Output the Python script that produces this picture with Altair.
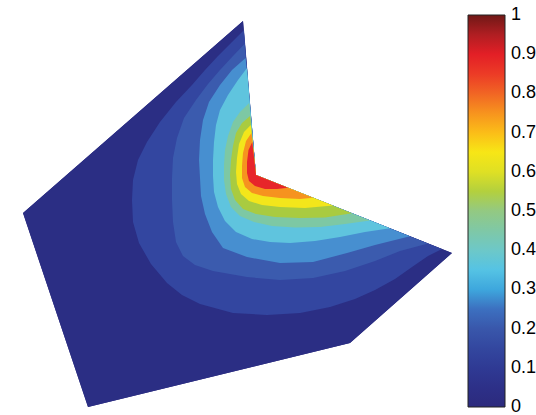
import altair as alt

# ---- data (pixel-like plane coordinates, y downward) ----
DOMAIN = [[243, 21], [256, 175], [452, 253], [350, 343], [88, 407], [23, 213]]
CORNER = [256, 175]

LEVELS = [0.1, 0.2, 0.3, 0.4, 0.5, 0.6, 0.7, 0.8, 0.9]

C1 = [[244, 30], [232, 42], [218, 56], [205, 70], [192, 85], [176, 102], [160, 122],
      [147, 142], [138, 160], [133, 180], [132, 200], [133, 222], [139, 243], [151, 264],
      [167, 283], [182, 295], [200, 304], [233, 313], [267, 315], [300, 313], [330, 307],
      [355, 299], [375, 290], [395, 279], [412, 267], [428, 256], [442, 249]]
C2 = [[244.5, 44], [233, 56], [220, 70], [208, 84], [196, 100], [184, 118], [177, 138],
      [173, 158], [172, 178], [172, 200], [173, 222], [176, 242], [183, 256], [195, 265],
      [213, 271], [247, 277], [280, 280], [313, 278], [345, 271], [375, 261], [400, 251],
      [428, 243.5]]
C3 = [[245.6, 58], [232, 70], [220, 85], [209, 102], [203, 120], [200, 140], [199, 160],
      [200, 178], [201, 196], [205, 214], [212, 232], [223, 248], [247, 257], [280, 263],
      [313, 262], [347, 253], [375, 245], [410, 236.3]]
C4 = [[247, 68], [238, 80], [228, 95], [220, 110], [216, 125], [214, 142], [213, 160],
      [213, 176], [214, 192], [218, 207], [225, 221], [236, 232], [252, 239], [270, 242],
      [290, 243], [315, 241], [340, 237], [365, 232], [390, 228.3]]
C5 = [[249.2, 103], [240, 112], [233, 122], [228, 136], [225, 150], [224, 165], [224, 180],
      [226, 194], [231, 207], [240, 216], [254, 222], [272, 226], [295, 227.5], [320, 227],
      [345, 224], [370, 220.4]]
C6 = [[250.1, 116], [242, 123], [236, 133], [233, 146], [231, 160], [230, 175], [231, 189],
      [235, 200], [243, 209], [256, 214], [275, 217], [300, 218], [325, 217.5], [352, 213.2]]
C7 = [[250.8, 125], [244, 132], [239, 144], [237, 158], [236, 172], [237, 184], [241, 194],
      [249, 201], [262, 205], [280, 207], [305, 208], [333, 205.6]]
C8 = [[251.5, 133], [246, 141], [243, 153], [242, 166], [242, 178], [245, 187], [252, 193],
      [263, 196], [280, 198], [300, 199], [313, 197.7]]
C9 = [[252.3, 142], [248.5, 150], [247, 162], [247, 173], [249, 181], [255, 186], [265, 189],
      [277, 189], [288, 187.7]]
CONTOURS = [C1, C2, C3, C4, C5, C6, C7, C8, C9]

BAND_COLORS = ["#2b2e84", "#3346a0", "#3b5bae", "#478fd0", "#5fc4de",
               "#7dc8a4", "#a9cb40", "#f3e61b", "#f6931f", "#e7252a"]

CBAR_COLORS = ["#2c2a7d", "#2d3088", "#2f3a94", "#33479f", "#3957ab", "#3c70c0",
               "#3ea7dd", "#55c3e4", "#6dc8c8", "#7fc8a6", "#93c982", "#b3d03e",
               "#dfe024", "#f7e616", "#fbbd18", "#f7931e", "#f16524", "#ec3b26",
               "#e31f26", "#b01e22", "#701816"]
CBAR_TICKS = [0, 0.1, 0.2, 0.3, 0.4, 0.5, 0.6, 0.7, 0.8, 0.9, 1]
INNER_TICKS = [0.1, 0.2, 0.3, 0.4, 0.5, 0.6, 0.7, 0.8, 0.9]


def ring(points):
    pts = [list(p) for p in points]
    if pts[0] != pts[-1]:
        pts.append(pts[0])
    return pts


band_names = ["b0"] + ["b%d" % (i + 1) for i in range(len(LEVELS))]
features = [{"type": "Feature",
             "geometry": {"type": "Polygon", "coordinates": [ring(DOMAIN)]},
             "properties": {"band": "b0", "level": 0.0}}]
for i, (lev, c) in enumerate(zip(LEVELS, CONTOURS)):
    features.append({"type": "Feature",
                     "geometry": {"type": "Polygon", "coordinates": [ring(c + [CORNER])]},
                     "properties": {"band": band_names[i + 1], "level": lev}})

legend_feature = [{"type": "Feature",
                   "geometry": {"type": "Polygon", "coordinates": [ring(DOMAIN)]},
                   "properties": {"level": 0.0}}]

base_legend = alt.Chart(alt.Data(values=legend_feature)).mark_geoshape(
    strokeWidth=0
).encode(
    fill=alt.Color(
        "properties.level:Q",
        scale=alt.Scale(domain=[-0.0001, 1.0001], range=CBAR_COLORS),
        legend=alt.Legend(
            orient="none", legendX=445, legendY=-6, direction="vertical",
            gradientLength=392, gradientThickness=37, title=None,
            values=CBAR_TICKS, format="~g", labelFontSize=18,
            labelFont="Liberation Sans", labelColor="black", labelOffset=6,
            gradientStrokeColor="#222222", gradientStrokeWidth=1, padding=0,
            labelOverlap=False,
        ),
    )
).project(type="identity")

bands = alt.Chart(alt.Data(values=features)).mark_geoshape(
    strokeWidth=0
).encode(
    fill=alt.Color("properties.band:N",
                   scale=alt.Scale(domain=band_names, range=BAND_COLORS),
                   legend=None)
).project(type="identity")

tick_df = alt.Data(values=[{"v": v} for v in INNER_TICKS])
ybar = alt.Y("v:Q", scale=alt.Scale(domain=[0, 1], range=[386, -6]), axis=None)

ticks_left = alt.Chart(tick_df).mark_rule(color="#333333", strokeWidth=1).encode(
    y=ybar, x=alt.value(445), x2=alt.value(449)
)
ticks_right = alt.Chart(tick_df).mark_rule(color="#333333", strokeWidth=1).encode(
    y=ybar, x=alt.value(478), x2=alt.value(482)
)

chart = alt.layer(base_legend, bands, ticks_left, ticks_right).resolve_scale(
    fill="independent"
).properties(
    width=429, height=386,
    padding={"left": 23, "top": 21, "right": 84, "bottom": 8},
    autosize=alt.AutoSizeParams(type="none"),
    background="white",
).configure_view(strokeWidth=0)

chart.save("out.html", embed_options={"renderer": "svg", "actions": False})
